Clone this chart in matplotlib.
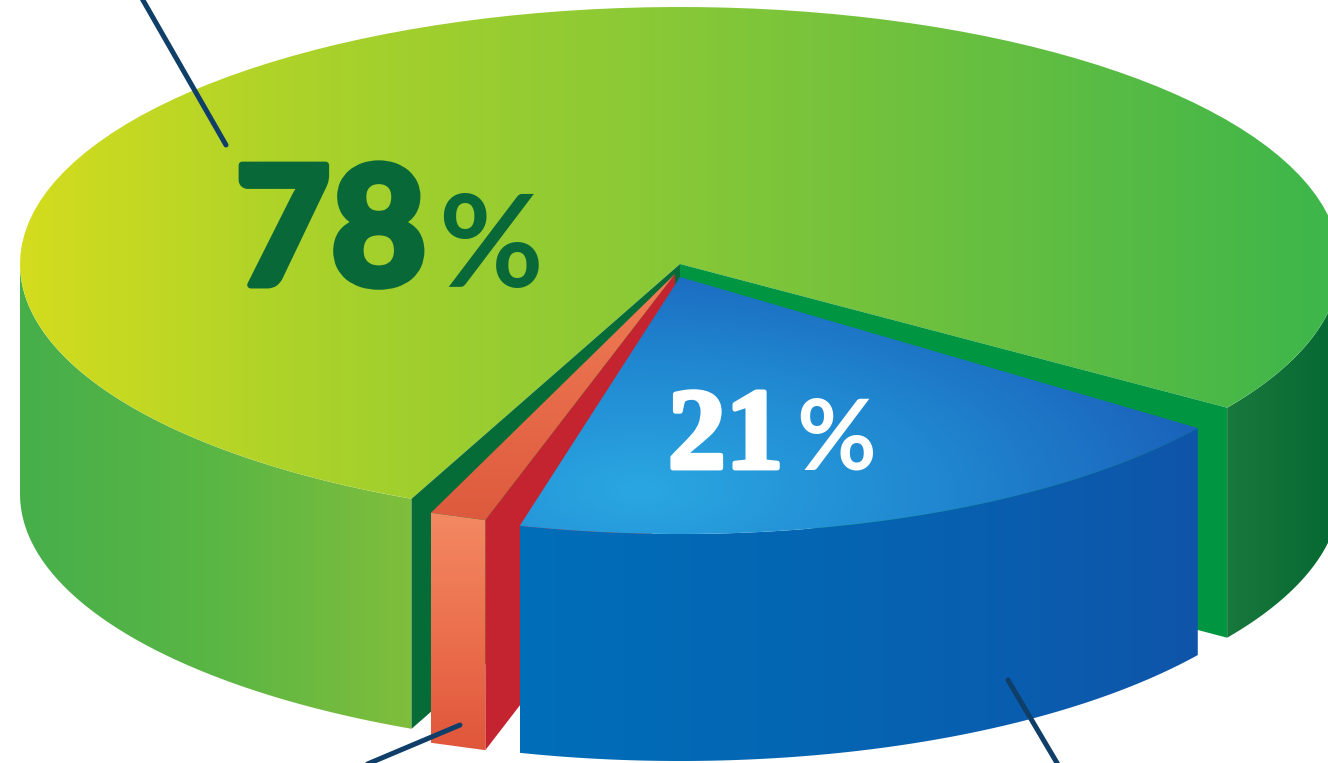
import numpy as np
import matplotlib
matplotlib.use("Agg")
import matplotlib.pyplot as plt
from matplotlib.colors import LinearSegmentedColormap
from matplotlib.patches import Polygon
import matplotlib.patheffects as pe

# shares of the pie, in percent
categories = ["green", "blue", "red"]
shares = [78, 21, 1]

W, H = 1328, 763
CX, CY, A, B = 680, 264, 660, 257   # ellipse of the top face, in pixels
DEPTH = 230
GREEN_END = 114.0
SLICE_GAP = 0.8   # the pulled out slices take a little more room than their share


def c(*rgb):
    return tuple(v / 255 for v in rgb)


def rim(t0, t1, cx=CX, cy=CY, a=A, b=B):
    t = np.radians(np.linspace(t0, t1, 120))
    return np.column_stack([cx + a * np.cos(t), cy + b * np.sin(t)])


def fill(ax, pts, colors, vertical=False, stops=None, zorder=1):
    # gradient clipped to a polygon
    pts = np.asarray(pts)
    if stops is None:
        stops = np.linspace(0, 1, len(colors))
    cmap = LinearSegmentedColormap.from_list("g", list(zip(stops, colors)))
    g = np.linspace(0, 1, 256)
    g = g.reshape(-1, 1) if vertical else g.reshape(1, -1)
    x0, x1 = pts[:, 0].min(), pts[:, 0].max()
    y0, y1 = pts[:, 1].min(), pts[:, 1].max()
    im = ax.imshow(g, cmap=cmap, extent=[x0, x1, y1, y0], aspect="auto", zorder=zorder)
    im.set_clip_path(Polygon(pts, closed=True, transform=ax.transData))
    return im


fig = plt.figure(figsize=(W / 100, H / 100), dpi=100)
ax = fig.add_axes([0, 0, 1, 1])
ax.axis("off")

green_start = GREEN_END + 360 * shares[0] / 100 - SLICE_GAP
apex = np.array([[CX, CY]])
apex_low = apex + [0, DEPTH]

# outer walls of the green slice
top = rim(GREEN_END, 180)
wall = np.vstack([top, top[::-1] + [0, DEPTH]])
fill(ax, wall, [c(70, 175, 75), c(90, 182, 68), c(128, 190, 60)], zorder=1)

top = rim(green_start - 360, 0)
wall = np.vstack([top, top[::-1] + [0, DEPTH]])
fill(ax, wall, [c(25, 120, 60), c(5, 104, 50)], zorder=1)

# top of the green slice
green_rim = rim(GREEN_END, green_start)
fill(ax, np.vstack([apex, green_rim]),
     [c(212, 220, 30), c(170, 210, 42), c(135, 200, 55), c(100, 190, 65), c(60, 182, 75)],
     stops=[0, 0.22, 0.5, 0.75, 1], zorder=2)

# cut faces of the green slice
p_left = rim(GREEN_END, GREEN_END)[:1]
p_right = rim(green_start, green_start)[:1]
ax.add_patch(Polygon(np.vstack([apex, p_left, p_left + [0, DEPTH], apex_low]),
                     fc=c(5, 108, 55), ec="none", zorder=3))
ax.add_patch(Polygon(np.vstack([apex, p_right, p_right + [0, DEPTH], apex_low]),
                     fc=c(0, 150, 65), ec="none", zorder=3))

# red slice, pulled out a bit
RED_C = (675, 274)
red_end = 111.7
red_start = red_end - 360 * shares[2] / 100 - 1.4
orange_left = rim(red_end, red_end, *RED_C)[:1]
orange_right = rim(red_start, red_start, *RED_C)[:1]
red_apex = np.array([RED_C])
ax.add_patch(Polygon(np.vstack([red_apex, orange_right, orange_right + [0, DEPTH],
                                red_apex + [0, DEPTH]]),
                     fc=c(196, 36, 48), ec="none", zorder=4))
fill(ax, np.vstack([red_apex, orange_left, orange_right]),
     [c(240, 125, 85), c(222, 90, 62)], vertical=True, zorder=5)
fill(ax, np.vstack([orange_left, orange_right, orange_right + [0, DEPTH], orange_left + [0, DEPTH]]),
     [c(243, 137, 98), c(236, 112, 78), c(224, 86, 58)], vertical=True, zorder=5)

# blue slice
BLUE_C = (680, 277)
BLUE_A = 640
blue_start = 36
blue_end = blue_start + 360 * shares[1] / 100 - 7.1
blue_rim = rim(blue_start, blue_end, *BLUE_C, a=BLUE_A)
fill(ax, np.vstack([blue_rim, blue_rim[::-1] + [0, DEPTH - 3]]),
     [c(0, 110, 185), c(5, 100, 178), c(15, 85, 170)], zorder=6)

blue_top = np.vstack([[BLUE_C], blue_rim])
xx, yy = np.meshgrid(np.linspace(500, 1210, 300), np.linspace(270, 540, 200))
dist = np.sqrt(((xx - 640) / 600) ** 2 + ((yy - 490) / 260) ** 2)
blue_cmap = LinearSegmentedColormap.from_list(
    "b", [c(42, 167, 226), c(32, 135, 208), c(26, 95, 185)])
im = ax.imshow(np.clip(dist, 0, 1), cmap=blue_cmap, extent=[500, 1210, 540, 270],
               aspect="auto", zorder=7)
im.set_clip_path(Polygon(blue_top, closed=True, transform=ax.transData))

ax.set_xlim(0, W)
ax.set_ylim(H, 0)

# leader lines
for xs, ys in [((140, 226), (-5, 145)), ((460, 358), (725, 768)), ((1008, 1060), (680, 768))]:
    ax.plot(xs, ys, color=c(15, 62, 105), lw=3.6, solid_capstyle="round", zorder=8)

# labels
dark = c(8, 104, 55)
ax.text(235, 285, str(shares[0]), family="Lato", weight=900, fontsize=119, color=dark,
        va="baseline", ha="left", zorder=9,
        path_effects=[pe.withStroke(linewidth=5, foreground=dark)])
ax.text(438, 287, "%", family="Lato", weight="bold", fontsize=92, color=dark,
        va="baseline", ha="left", zorder=9)
ax.text(668, 468, str(shares[1]), family="Liberation Serif", weight="bold", fontsize=83, color="white",
        va="baseline", ha="left", zorder=9,
        path_effects=[pe.withStroke(linewidth=3.5, foreground="white")])
ax.text(796, 470, "%", family="Lato", weight="bold", fontsize=70, color="white",
        va="baseline", ha="left", zorder=9)

fig.savefig("out.png", dpi=100, facecolor="white")
